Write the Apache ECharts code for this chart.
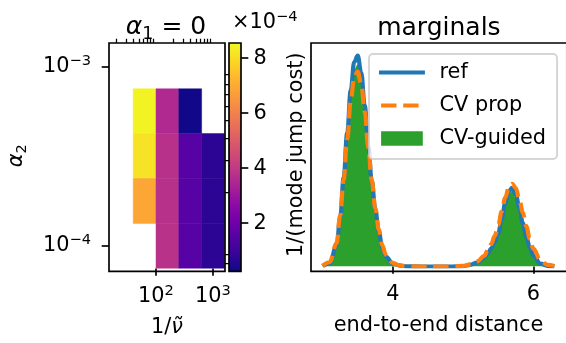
<!DOCTYPE html>
<html><head><meta charset="utf-8">
<script src="https://cdn.jsdelivr.net/npm/echarts@6/dist/echarts.min.js"></script>
<style>html,body{margin:0;padding:0;background:#fff}#c{width:566px;height:343px}</style>
</head><body><div id="c"></div>
<script>
// ---------------- data: left panel (mode jump cost heat map, alpha1 = 0) ----------------
const nuEdges = [39.8, 100, 251, 631, 1585];                 // 1/nu~ bin edges
const alpha2Edges = [7.5e-4, 4.22e-4, 2.37e-4, 1.33e-4, 7.5e-5]; // alpha2 bin edges, top -> bottom
const costRow1 = [8.45, 3.55, 0.30, null];   // values in units of 1e-4
const costRow2 = [8.15, 3.75, 1.55, 0.72];
const costRow3 = [6.90, 3.75, 1.55, 0.72];
const costRow4 = [null, 3.80, 1.55, 0.72];
const nuMajorTicks = [100, 1000];
const nuMinorTicks = [20, 30, 40, 50, 60, 70, 80, 90, 200, 300, 400, 500, 600, 700, 800, 900];
const alpha2MajorTicks = [1e-4, 1e-3];
const alpha2MinorTicks = [8e-5, 9e-5, 2e-4, 3e-4, 4e-4, 5e-4, 6e-4, 7e-4, 8e-4, 9e-4];
const colorbarTicks = [2, 4, 6, 8];
const colorbarRange = [0.25, 8.55];
const plasma = ['#0d0887','#2a0593','#41049d','#5402a3','#6a00a8','#7e03a8','#8f0da4','#a11b9b','#b12a90','#bf3984','#cc4778','#d6556d','#e16462','#ea7457','#f2844b','#f89540','#fca636','#feb72d','#fcce25','#f7e225','#f0f921'];

// ---------------- data: right panel (marginals) ----------------
const dist = [3.0,3.1,3.2,3.25,3.3,3.35,3.4,3.45,3.5,3.55,3.6,3.65,3.7,3.75,3.8,3.85,3.9,4.0,4.1,4.2,4.4,4.6,4.8,5.0,5.1,5.2,5.3,5.35,5.4,5.45,5.5,5.55,5.6,5.65,5.7,5.75,5.8,5.85,5.9,5.95,6.0,6.1,6.2,6.3];
const refVals = [0.002,0.015,0.10,0.23,0.42,0.63,0.83,0.965,0.995,0.915,0.76,0.57,0.405,0.27,0.165,0.09,0.047,0.013,0.004,0.001,0,0,0,0.002,0.008,0.018,0.04,0.06,0.085,0.115,0.155,0.225,0.30,0.355,0.372,0.34,0.28,0.205,0.14,0.09,0.052,0.014,0.003,0.001];
const cvPropVals = [0.003,0.02,0.11,0.24,0.41,0.60,0.78,0.895,0.92,0.86,0.73,0.56,0.405,0.275,0.175,0.10,0.055,0.016,0.005,0.001,0,0,0,0.003,0.01,0.024,0.05,0.075,0.105,0.145,0.195,0.26,0.325,0.372,0.39,0.37,0.32,0.255,0.19,0.13,0.085,0.03,0.008,0.002];
const cvGuidedVals = [0.002,0.015,0.10,0.22,0.41,0.61,0.80,0.93,0.955,0.885,0.735,0.55,0.39,0.26,0.16,0.088,0.045,0.012,0.004,0.001,0,0,0,0.002,0.008,0.017,0.038,0.057,0.08,0.11,0.148,0.215,0.288,0.342,0.356,0.325,0.268,0.195,0.133,0.085,0.048,0.012,0.003,0.001];
const distTicks = [4, 6];

// ---------------- build ----------------
const FONT = 'DejaVu Sans';
const FS = 20.83;
const L10 = Math.log10;
const costRows = [costRow1, costRow2, costRow3, costRow4];
const cells = [];
costRows.forEach((row, r) => row.forEach((v, c) => {
  if (v != null) cells.push([L10(nuEdges[c]), L10(nuEdges[c + 1]), L10(alpha2Edges[r]), L10(alpha2Edges[r + 1]), v]);
}));
const pair = vals => dist.map((x, i) => [x, vals[i]]);

// layout boxes (pixels)
const boxHeat = {left: 109, top: 43, width: 116, height: 228.3};
const boxBar = {left: 229, top: 43, width: 12, height: 228.3};
const boxMarg = {left: 311, top: 43, width: 255.8, height: 228.3};
const frame = b => ({type: 'rect', z: 100, silent: true,
  shape: {x: b.left, y: b.top, width: b.width, height: b.height},
  style: {fill: 'none', stroke: '#000', lineWidth: 1.67}});

const richTick = {
  b: {fontFamily: FONT, fontSize: FS, lineHeight: 26, color: '#000'},
  s: {fontFamily: FONT, fontSize: 14.6, lineHeight: 14.4, verticalAlign: 'top', color: '#000'}
};
function powLabel(v) {
  const e = Math.round(v);
  return '{b|10}{s|' + (e < 0 ? '\u2212' + (-e) : e) + '}';
}
const tickLine = {color: '#000', width: 1.67};
const minorLine = {color: '#000', width: 1.25};

const chart = echarts.init(document.getElementById('c'), null, {renderer: 'canvas', width: 566, height: 343});
chart.setOption({
  animation: false,
  backgroundColor: '#fff',
  textStyle: {fontFamily: FONT},
  title: [
    {text: '{a|α}{s|1}{n| = 0}', left: 166, top: 11.6, textAlign: 'center', padding: 0,
     textStyle: {fontWeight: 'normal', rich: {
       a: {fontFamily: FONT, fontStyle: 'italic', fontWeight: 'normal', fontSize: 25, lineHeight: 32, color: '#000'},
       s: {fontFamily: FONT, fontWeight: 'normal', fontSize: 17.5, lineHeight: 18.6, verticalAlign: 'bottom', color: '#000'},
       n: {fontFamily: FONT, fontWeight: 'normal', fontSize: 25, lineHeight: 32, color: '#000'}
     }}},
    {text: 'marginals', left: 438.9, top: 12, textAlign: 'center', padding: 0,
     textStyle: {fontFamily: FONT, fontWeight: 'normal', fontSize: 25, lineHeight: 32, color: '#000'}}
  ],
  graphic: [
    {type: 'text', left: 232, top: 9.8, z: 100, style: {text: '{b|×10}{s|\u22124}', rich: richTick, fill: '#000'}},
    frame(boxHeat), frame(boxBar), frame(boxMarg)
  ],
  grid: [
    Object.assign({show: false}, boxHeat),
    Object.assign({show: false}, boxBar),
    Object.assign({show: false}, boxMarg)
  ],
  xAxis: [
    {gridIndex: 0, type: 'value', min: 1.1754, max: 3.2105, splitLine: {show: false}, axisLine: {show: false, onZero: false},
     axisTick: {show: true, customValues: nuMajorTicks.map(L10), length: 7.3, lineStyle: tickLine},
     axisLabel: {customValues: nuMajorTicks.map(L10), formatter: powLabel, rich: richTick, margin: 15},
     name: '{n|1/}{i|ν\u0303}', nameLocation: 'middle', nameGap: 46.5,
     nameTextStyle: {rich: {
       n: {fontFamily: FONT, fontSize: FS, lineHeight: 25, color: '#000'},
       i: {fontFamily: FONT, fontStyle: 'italic', fontSize: FS, lineHeight: 25, color: '#000'}}}},
    {gridIndex: 0, type: 'value', min: 1.1754, max: 3.2105, splitLine: {show: false}, axisLine: {show: false, onZero: false},
     axisTick: {show: true, customValues: nuMinorTicks.map(L10), length: 4.2, lineStyle: minorLine},
     axisLabel: {show: false}},
    {gridIndex: 1, type: 'value', min: 0, max: 1, show: false},
    {gridIndex: 2, type: 'value', min: 2.835, max: 6.465, splitLine: {show: false}, axisLine: {show: false, onZero: false},
     axisTick: {show: true, customValues: distTicks, length: 7.3, lineStyle: tickLine},
     axisLabel: {customValues: distTicks, margin: 15.4, fontFamily: FONT, fontSize: FS, lineHeight: 25, color: '#000'},
     name: 'end-to-end distance', nameLocation: 'middle', nameGap: 46.5,
     nameTextStyle: {fontFamily: FONT, fontSize: FS, lineHeight: 25, color: '#000'}}
  ],
  yAxis: [
    {gridIndex: 0, type: 'value', min: -4.1267, max: -2.8695, splitLine: {show: false}, axisLine: {show: false, onZero: false},
     axisTick: {show: true, customValues: alpha2MajorTicks.map(L10), length: 7.3, lineStyle: tickLine},
     axisLabel: {customValues: alpha2MajorTicks.map(L10), formatter: powLabel, rich: richTick, margin: 18},
     name: '{a|α}{s|2}', nameLocation: 'middle', nameGap: 79,
     nameTextStyle: {rich: {
       a: {fontFamily: FONT, fontStyle: 'italic', fontSize: FS, lineHeight: 26.6, color: '#000'},
       s: {fontFamily: FONT, fontSize: 14.6, lineHeight: 15.4, verticalAlign: 'bottom', color: '#000'}}}},
    {gridIndex: 0, type: 'value', min: -4.1267, max: -2.8695, splitLine: {show: false}, axisLine: {show: false, onZero: false},
     axisTick: {show: true, customValues: alpha2MinorTicks.map(L10), length: 4.2, lineStyle: minorLine},
     axisLabel: {show: false}},
    {gridIndex: 1, type: 'value', position: 'right', min: colorbarRange[0], max: colorbarRange[1], splitLine: {show: false},
     axisLine: {show: false, onZero: false},
     axisTick: {show: true, customValues: colorbarTicks, length: 7.3, lineStyle: tickLine},
     axisLabel: {customValues: colorbarTicks, margin: 12.5, fontFamily: FONT, fontSize: FS, lineHeight: 25, color: '#000'}},
    {gridIndex: 2, type: 'value', min: 0, max: 1.055, splitLine: {show: false}, axisLine: {show: false, onZero: false},
     axisTick: {show: false}, axisLabel: {show: false},
     name: '1/(mode jump cost)', nameLocation: 'middle', nameGap: 2,
     nameTextStyle: {fontFamily: FONT, fontSize: FS, lineHeight: 25, color: '#000'}}
  ],
  visualMap: {type: 'continuous', show: false, seriesIndex: 0, dimension: 4,
              min: colorbarRange[0], max: colorbarRange[1], inRange: {color: plasma}},
  legend: {
    left: 369, top: 54, orient: 'vertical', itemWidth: 41.7, itemHeight: 14.6, itemGap: 8,
    padding: [6, 11, 8, 10], backgroundColor: 'rgba(255,255,255,0.8)',
    borderColor: 'rgba(204,204,204,0.8)', borderWidth: 2, borderRadius: 4,
    textStyle: {fontFamily: FONT, fontSize: FS, lineHeight: 25, color: '#000', padding: [0, 0, 0, 11.7]},
    lineStyle: {width: 4.2},
    data: [
      {name: 'ref', itemStyle: {opacity: 0}, lineStyle: {width: 4.2, cap: 'square'}},
      {name: 'CV prop', itemStyle: {opacity: 0}, lineStyle: {width: 4.2}},
      {name: 'CV-guided', icon: 'rect', itemStyle: {color: '#2ca02c', borderWidth: 0}}
    ]
  },
  series: [
    {type: 'custom', xAxisIndex: 0, yAxisIndex: 0, data: cells, encode: {x: [0, 1], y: [2, 3]},
     renderItem: (params, api) => {
       const p0 = api.coord([api.value(0), api.value(2)]);
       const p1 = api.coord([api.value(1), api.value(3)]);
       const col = api.visual('color');
       return {type: 'rect', shape: {x: p0[0], y: p0[1], width: p1[0] - p0[0], height: p1[1] - p0[1]},
               style: {fill: col, stroke: col, lineWidth: 0.5}};
     }},
    {type: 'custom', xAxisIndex: 2, yAxisIndex: 2, data: [[0, 1, colorbarRange[0], colorbarRange[1]]], encode: {x: [0, 1], y: [2, 3]},
     renderItem: (params, api) => {
       const p0 = api.coord([api.value(0), api.value(3)]);
       const p1 = api.coord([api.value(1), api.value(2)]);
       return {type: 'rect', shape: {x: p0[0], y: p0[1], width: p1[0] - p0[0], height: p1[1] - p0[1]},
               style: {fill: {type: 'linear', x: 0, y: 1, x2: 0, y2: 0,
                 colorStops: plasma.map((c, i) => ({offset: i / (plasma.length - 1), color: c}))}}};
     }},
    {name: 'CV-guided', type: 'line', xAxisIndex: 3, yAxisIndex: 3, data: pair(cvGuidedVals), smooth: 0.4, smoothMonotone: 'x',
     symbol: 'none', color: '#2ca02c', itemStyle: {color: '#2ca02c'}, lineStyle: {width: 0, color: '#2ca02c'},
     areaStyle: {color: '#2ca02c', opacity: 1}, z: 1},
    {name: 'ref', type: 'line', xAxisIndex: 3, yAxisIndex: 3, data: pair(refVals), smooth: 0.4, smoothMonotone: 'x',
     symbol: 'none', color: '#1f77b4', lineStyle: {width: 4.2, color: '#1f77b4'}, z: 2},
    {name: 'CV prop', type: 'line', xAxisIndex: 3, yAxisIndex: 3, data: pair(cvPropVals), smooth: 0.4, smoothMonotone: 'x',
     symbol: 'none', color: '#ff7f0e', lineStyle: {width: 4.2, color: '#ff7f0e', type: [15.4, 6.7]}, z: 3}
  ]
});
</script>
</body></html>
